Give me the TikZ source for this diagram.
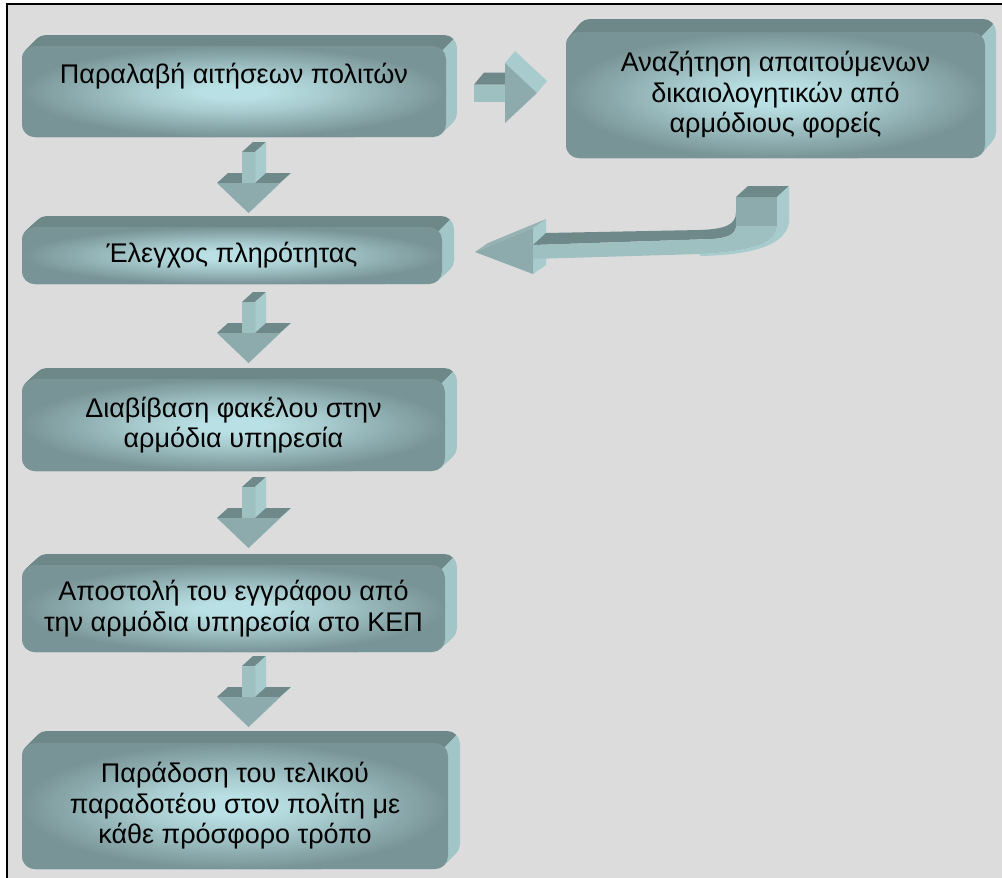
\documentclass[tikz,border=0pt]{standalone}
\usepackage{fontspec}
\setmainfont{Liberation Sans}
\usetikzlibrary{calc}

\definecolor{paper}{HTML}{DCDCDC}
\definecolor{glowin}{HTML}{B9E0E4}
\definecolor{glowout}{HTML}{799496}
\definecolor{bevdark}{HTML}{6E8789}
\definecolor{bevlight}{HTML}{A2C6C8}
\definecolor{arrfront}{HTML}{8DABAC}
\definecolor{arrshaft}{HTML}{9EC0C1}
\definecolor{arrtop}{HTML}{6F898A}
\definecolor{arrside}{HTML}{A8CCCE}

\pgfdeclareradialshading{slabglow}{\pgfpoint{0bp}{0bp}}{color(0bp)=(glowin); color(4bp)=(glowin); color(11bp)=(glowin!72!glowout); color(19bp)=(glowin!30!glowout); color(25bp)=(glowout); color(50bp)=(glowout)}

\pgfdeclarelayer{bottom}
\pgfdeclarelayer{bevel}
\pgfsetlayers{bottom,bevel,main}

\tikzset{
  slab/.style={rectangle, rounded corners=13pt, shade, shading=slabglow,
    inner sep=0pt, outer sep=0pt, align=center,
    font=\fontsize{27}{30.5}\selectfont, text=black},
  bev/.style={rounded corners=13pt},
}

% extruded back of a slab: light sides, darker top face
\newcommand\extrude[3]{%
  \begin{pgfonlayer}{bevel}
    \foreach \k in {0,...,16}{
      \fill[bevlight, bev] ([shift={({#2*\k/16},{#3*\k/16})}]#1.north west)
        rectangle ([shift={({#2*\k/16},{#3*\k/16})}]#1.south east);
    }
    \begin{scope}
      \clip ([shift={(36.2,-36.2)}]#1.north east) -- ([shift={(-603.8,603.8)}]#1.north east)
        -- ([shift={(-1203.8,3.8)}]#1.north east) -- ([shift={(-563.8,-636.2)}]#1.north east) -- cycle;
      \foreach \k in {0,...,16}{
        \fill[bevdark, bev] ([shift={({#2*\k/16},{#3*\k/16})}]#1.north west)
          rectangle ([shift={({#2*\k/16},{#3*\k/16})}]#1.south east);
      }
    \end{scope}
  \end{pgfonlayer}}

% 3D block arrow pointing down, anchored at the front top centre of its shaft
\newcommand\downblock[1]{%
  \begin{scope}[shift={(#1)}]
    \fill[arrtop] (-6.5,0) -- (6.5,0) -- (17.5,-10) -- (4.5,-10) -- cycle;
    \fill[arrside] (6.5,0) -- (17.5,-10) -- (17.5,21) -- (6.5,31) -- cycle;
    \fill[arrtop] (-31.5,31) -- (-6.5,31) -- (4.5,21) -- (-20.5,21) -- cycle;
    \fill[arrtop] (6.5,31) -- (31.5,31) -- (42.5,21) -- (17.5,21) -- cycle;
    \fill[arrside] (31.5,31) -- (0,61) -- (11,51) -- (42.5,21) -- cycle;
    \fill[arrfront] (-6.5,0) -- (6.5,0) -- (6.5,31) -- (31.5,31) -- (0,61) -- (-31.5,31) -- (-6.5,31) -- cycle;
    \fill[arrshaft] (-6.5,0) rectangle (6.5,31);
  \end{scope}}

% 3D block arrow pointing right, anchored at the left centre of its shaft
\newcommand\rightblock[1]{%
  \begin{scope}[shift={(#1)}]
    \fill[arrtop] (0,-8.5) -- (31,-8.5) -- (41,-20.5) -- (10,-20.5) -- cycle;
    \fill[arrside] (31,-30) -- (63,0) -- (73,-12) -- (41,-42) -- cycle;
    \fill[arrfront] (0,-8.5) -- (31,-8.5) -- (31,-30) -- (63,0) -- (31,30) -- (31,8.5) -- (0,8.5) -- cycle;
    \fill[arrshaft] (0,-8.5) rectangle (31,8.5);
  \end{scope}}

\begin{document}
\begin{tikzpicture}[x=1pt, y=-1pt]
  \useasboundingbox (0,0) rectangle (1002,878);

  % sheet and frame
  \begin{pgfonlayer}{bottom}
    \fill[white] (0,0) rectangle (1002,878);
    \fill[paper] (7,3) rectangle (1002,878);
    \draw[line width=2pt] (7,878) -- (7,3.5) -- (1002,3.5);
  \end{pgfonlayer}

  % process steps
  \node[slab, minimum width=424pt, minimum height=91pt, text height=19.5pt, text depth=36.5pt]
    (b1) at (234,91.5) {Παραλαβή αιτήσεων πολιτών};
  \node[slab, minimum width=419pt, minimum height=126pt]
    (b2) at (775.5,95) {Αναζήτηση απαιτούμενων\\δικαιολογητικών από\\αρμόδιους φορείς};
  \node[slab, minimum width=420pt, minimum height=57pt, text height=19.5pt, text depth=6pt]
    (b3) at (232,255.5) {Έλεγχος πληρότητας};
  \node[slab, minimum width=423pt, minimum height=92pt]
    (b4) at (233.5,425) {Διαβίβαση φακέλου στην\\αρμόδια υπηρεσία};
  \node[slab, minimum width=423pt, minimum height=87pt]
    (b5) at (233.5,608.5) {Αποστολή του εγγράφου από\\την αρμόδια υπηρεσία στο ΚΕΠ};
  \node[slab, minimum width=426pt, minimum height=126pt]
    (b6) at (235,806) {Παράδοση του τελικού\\παραδοτέου στον πολίτη με\\κάθε πρόσφορο τρόπο};

  \extrude{b1}{11}{-11}
  \extrude{b2}{11}{-13}
  \extrude{b3}{12}{-11}
  \extrude{b4}{12}{-11}
  \extrude{b5}{12}{-11}
  \extrude{b6}{12}{-12}

  % connectors
  \coordinate (r1) at ([shift={(28,1.5)}]b1.east);
  \rightblock{r1}

  \coordinate (a1) at ([shift={(14.5,15)}]b1.south);
  \coordinate (a2) at ([shift={(16.5,18)}]b3.south);
  \coordinate (a3) at ([shift={(15,16)}]b4.south);
  \coordinate (a4) at ([shift={(15,14)}]b5.south);
  \downblock{a1}
  \downblock{a2}
  \downblock{a3}
  \downblock{a4}

  % returning arrow from b2 back to b3
  \coordinate (c0) at ([shift={(33,-3.5)}]b3.east);
  \begin{scope}[shift={($(c0)-(475,252)$)}]
    \fill[arrside] (533,228) -- (546,219) -- (546,265) -- (533,274) -- cycle;
    \fill[arrfront!92!white] (475,252) -- (488,243) -- (546,219) -- (533,228) -- cycle;
    \fill[arrfront] (475,252) -- (533,228) -- (533,274) -- cycle;
    \fill[arrtop] (533,245) -- (546,233) -- (700,230)
      .. controls (725,229) and (736,225) .. (736,212) -- (736,226)
      .. controls (736,234) and (728,238) .. (712,239) -- cycle;
    \fill[arrshaft] (533,245) -- (712,239) .. controls (728,238) and (736,234) .. (736,226)
      -- (736,197) -- (777,197) -- (777,226) .. controls (777,245) and (745,252) .. (700,254)
      -- (533,259) -- cycle;
    \fill[arrfront] (736,197) rectangle (777,226);
    \fill[arrtop] (736,197) -- (748,186) -- (789,186) -- (777,197) -- cycle;
    \fill[arrside] (777,197) -- (789,186) -- (789,222) .. controls (786,246) and (750,255) .. (700,256)
      -- (700,254) .. controls (745,252) and (777,245) .. (777,226) -- cycle;
  \end{scope}
\end{tikzpicture}
\end{document}
